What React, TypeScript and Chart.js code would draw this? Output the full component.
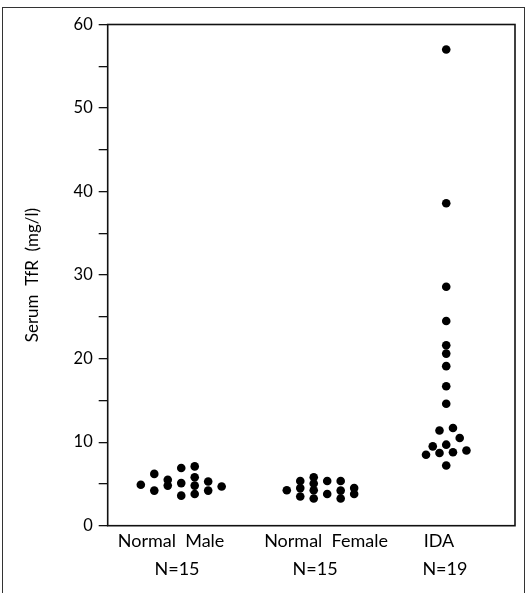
import React, { useEffect, useRef } from 'react';
import { Chart, registerables } from 'chart.js';

Chart.register(...registerables);

// ---- data ----
const categories = ['Normal  Male', 'Normal  Female', 'IDA'];
const groupSizes = ['N=15', 'N=15', 'N=19'];
const categoryCenters = [1, 2, 3];

const maleValues = [4.9, 6.2, 4.2, 5.5, 4.8, 6.9, 5.1, 3.6, 7.1, 5.8, 4.8, 3.8, 5.3, 4.2, 4.7];
const maleColumns = [-3, -2, -2, -1, -1, 0, 0, 0, 1, 1, 1, 1, 2, 2, 3];

const femaleValues = [4.25, 5.35, 4.5, 3.5, 5.8, 5.05, 4.25, 3.25, 5.35, 3.8, 5.35, 4.2, 3.25, 4.5, 3.8];
const femaleColumns = [-2, -1, -1, -1, 0, 0, 0, 0, 1, 1, 2, 2, 2, 3, 3];

const idaValues = [57.0, 38.6, 28.6, 24.5, 21.6, 20.6, 19.1, 16.7, 14.6, 11.4, 11.7, 10.5, 9.5, 9.7, 8.5, 8.7, 8.8, 9.0, 7.2];
const idaHalfColumns = [0, 0, 0, 0, 0, 0, 0, 0, 0, -1, 1, 2, -2, 0, -3, -1, 1, 3, 0];

const yTickValuesStep = 5;
const yMin = 0;
const yMax = 60;

// ---- layout constants ----
const COL = 0.1017;
const X_MIN = 0.445;
const X_MAX = 3.519;
const NAME_LABEL_POS = [0.923, 2.093, 2.945];
const N_LABEL_POS = [0.968, 2.01, 2.99];
const FONT = 'Lato';

export default function App() {
  const ref = useRef<HTMLCanvasElement | null>(null);

  useEffect(() => {
    if (!ref.current) return;
    const mk = (vals: number[], cols: number[], center: number, step: number) =>
      vals.map((v, i) => ({ x: center + cols[i] * step, y: v }));

    const framePlugin = {
      id: 'frame',
      afterDraw(chart: any) {
        const { ctx, chartArea } = chart;
        ctx.save();
        ctx.strokeStyle = '#111';
        ctx.lineWidth = 1.6;
        ctx.strokeRect(chartArea.left, chartArea.top, chartArea.right - chartArea.left, chartArea.bottom - chartArea.top);
        ctx.restore();
      },
    };

    const chart = new Chart(ref.current, {
      type: 'scatter',
      data: {
        datasets: [
          { data: mk(maleValues, maleColumns, categoryCenters[0], COL) },
          { data: mk(femaleValues, femaleColumns, categoryCenters[1], COL) },
          { data: mk(idaValues, idaHalfColumns, categoryCenters[2], COL / 2) },
        ].map((d) => ({
          ...d,
          backgroundColor: '#000',
          borderWidth: 0,
          pointRadius: 4.3,
          pointHoverRadius: 4.3,
        })),
      },
      options: {
        responsive: false,
        animation: false,
        layout: { padding: { left: 0, top: 24.5, right: 13, bottom: 9.3 } },
        plugins: { legend: { display: false }, tooltip: { enabled: false } },
        scales: {
          x: {
            type: 'linear',
            position: 'bottom',
            weight: 0,
            min: X_MIN,
            max: X_MAX,
            grid: { display: false, drawTicks: false },
            border: { display: false },
            afterBuildTicks: (scale: any) => {
              scale.ticks = NAME_LABEL_POS.map((v) => ({ value: v }));
            },
            afterFit: (scale: any) => {
              scale.height = 28;
            },
            ticks: {
              autoSkip: false,
              maxRotation: 0,
              padding: 5.1,
              color: '#000',
              font: { family: FONT, size: 18 },
              callback: (_v: any, i: number) => categories[i],
            },
          },
          x2: {
            type: 'linear',
            position: 'bottom',
            weight: 1,
            min: X_MIN,
            max: X_MAX,
            grid: { display: false, drawTicks: false },
            border: { display: false },
            afterBuildTicks: (scale: any) => {
              scale.ticks = N_LABEL_POS.map((v) => ({ value: v }));
            },
            afterFit: (scale: any) => {
              scale.height = 30;
            },
            ticks: {
              autoSkip: false,
              maxRotation: 0,
              padding: 4.5,
              color: '#000',
              font: { family: FONT, size: 18 },
              callback: (_v: any, i: number) => groupSizes[i],
            },
          },
          y: {
            type: 'linear',
            min: yMin,
            max: yMax,
            afterFit: (scale: any) => {
              scale.width = 107.7;
            },
            grid: {
              display: true,
              drawOnChartArea: false,
              drawTicks: true,
              tickLength: 9,
              color: '#111',
              lineWidth: 1.3,
            },
            border: { display: false },
            ticks: {
              stepSize: yTickValuesStep,
              padding: 6,
              color: '#000',
              font: { family: FONT, size: 16.5 },
              callback: (v: any) => (Number(v) % 10 === 0 ? String(v) : ''),
            },
            title: {
              display: true,
              text: 'Serum  TfR  (mg/l)',
              color: '#000',
              font: { family: FONT, size: 17 },
              padding: { top: 22.8, bottom: 0 },
            },
          },
        },
      },
      plugins: [framePlugin],
    } as any);

    return () => chart.destroy();
  }, []);

  return (
    <div style={{ position: 'fixed', left: 0, top: 0, width: 528, height: 593, background: '#fff', overflow: 'hidden' }}>
      <div
        style={{
          position: 'absolute',
          left: 2,
          top: 7,
          width: 523,
          height: 700,
          boxSizing: 'border-box',
          borderLeft: '1.5px solid #333',
          borderTop: '1.5px solid #333',
          borderRight: '1.5px solid #333',
        }}
      />
      <canvas ref={ref} width={528} height={593} style={{ position: 'absolute', left: 0, top: 0, display: 'block' }} />
    </div>
  );
}
